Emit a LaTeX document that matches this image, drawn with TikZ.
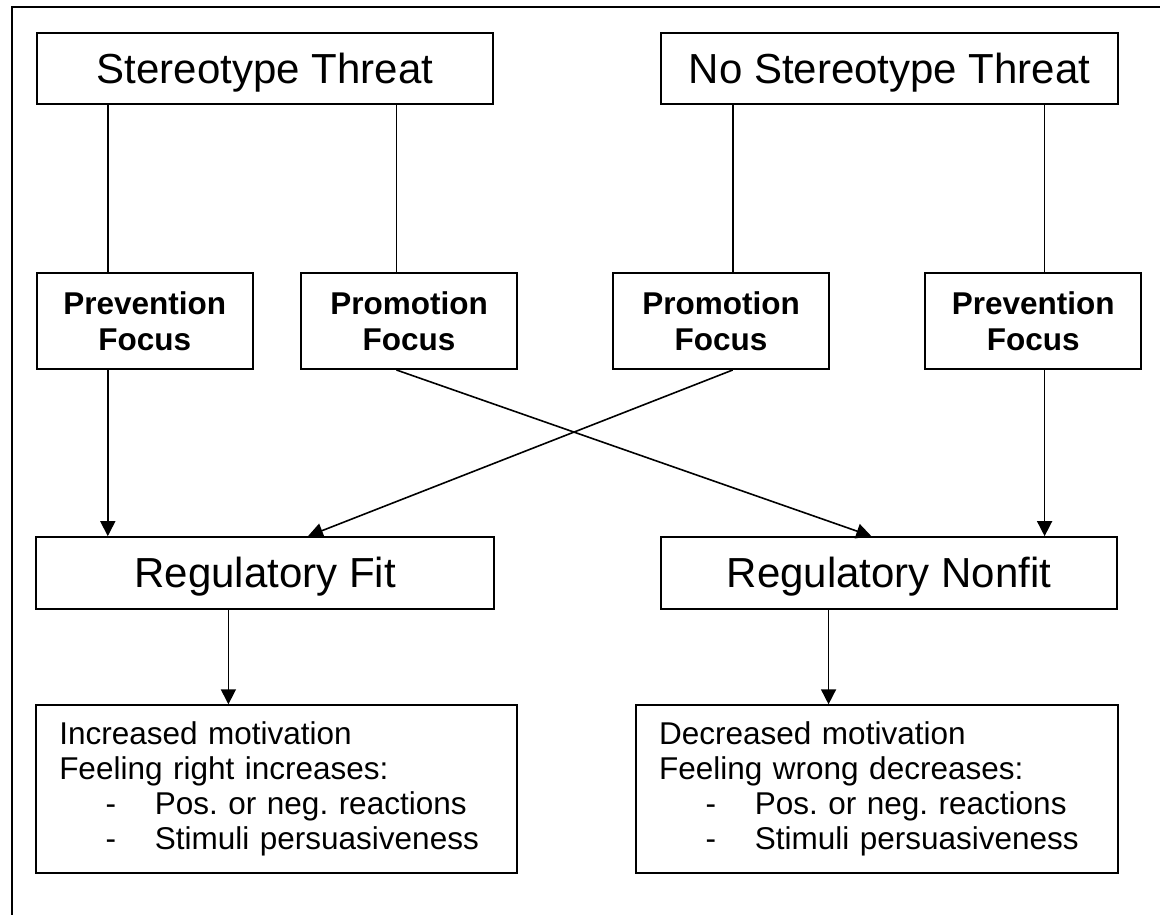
\documentclass[tikz,border=0pt]{standalone}
\usepackage{fontspec}
\setmainfont{Liberation Sans}
\usetikzlibrary{arrows.meta}
\newcommand{\bulitem}[1]{\makebox[95.7pt][l]{\hspace*{46.5pt}-}#1}
\frenchspacing
\begin{document}
\begin{tikzpicture}[x=1pt,y=-1pt,
  box/.style={draw, line width=2pt, rectangle, inner sep=0pt},
  bigbox/.style={box, font=\fontsize{42}{48}\selectfont, text height=30pt, text depth=0pt, minimum height=71.5pt},
  focusbox/.style={box, align=center, font=\fontsize{31.5}{36}\selectfont\bfseries, minimum width=216.4pt, minimum height=96pt},
  outbox/.style={box, align=left, font=\frenchspacing\fontsize{31.5}{35}\selectfont, minimum height=168pt, inner xsep=23pt},
  conn/.style={line width=1.6pt},
  arr/.style={conn, -{Triangle[length=15pt,width=15pt]}}]
\useasboundingbox (0,0) rectangle (1160,915);
\draw[line width=2pt] (12,915) -- (12,7.3) -- (1160,7.3);

\node[bigbox, minimum width=456pt] (st) at (265,68.5) {Stereotype Threat};
\node[bigbox, minimum width=457pt] (nst) at (889.5,68.5) {No Stereotype Threat};

\node[focusbox] (prevL) at (144.7,321) {Prevention\\Focus};
\node[focusbox] (promL) at (409,321) {Promotion\\Focus};
\node[focusbox] (promR) at (721,321) {Promotion\\Focus};
\node[focusbox] (prevR) at (1033.2,321) {Prevention\\Focus};

\node[bigbox, minimum width=457.6pt] (rf) at (265.1,572.9) {Regulatory Fit};
\node[bigbox, minimum width=456.5pt] (rn) at (889,572.9) {Regulatory Nonfit};

\node[outbox, text width=434.9pt] (botL) at (276.7,789.3) {Increased motivation\\Feeling right increases:\\\bulitem{Pos. or neg. reactions}\\\bulitem{Stimuli persuasiveness}};
\node[outbox, text width=435.4pt] (botR) at (876.9,789.3) {Decreased motivation\\Feeling wrong decreases:\\\bulitem{Pos. or neg. reactions}\\\bulitem{Stimuli persuasiveness}};

% top connectors
\coordinate (c1) at ([xshift=72.3pt]prevL.north west);
\coordinate (c2) at ([xshift=96.7pt]promL.north west);
\coordinate (c3) at ([xshift=120.9pt]promR.north west);
\coordinate (c4) at ([xshift=120.6pt]prevR.north west);
\draw[conn] (c1 |- st.south) -- (c1);
\draw[conn] (c2 |- st.south) -- (c2);
\draw[conn] (c3 |- nst.south) -- (c3);
\draw[conn] (c4 |- nst.south) -- (c4);

% focus to regulatory
\coordinate (e1) at ([xshift=272.7pt]rf.north west);
\coordinate (e2) at ([xshift=211.6pt]rn.north west);
\draw[arr] (c1 |- prevL.south) -- (c1 |- rf.north);
\draw[arr] (c2 |- promL.south) -- (e2);
\draw[arr] (c3 |- promR.south) -- (e1);
\draw[arr] (c4 |- prevR.south) -- (c4 |- rn.north);

% regulatory to outcomes
\coordinate (d1) at ([xshift=193.1pt]rf.south west);
\coordinate (d2) at ([xshift=168.8pt]rn.south west);
\draw[arr] (d1) -- (d1 |- botL.north);
\draw[arr] (d2) -- (d2 |- botR.north);
\end{tikzpicture}
\end{document}
